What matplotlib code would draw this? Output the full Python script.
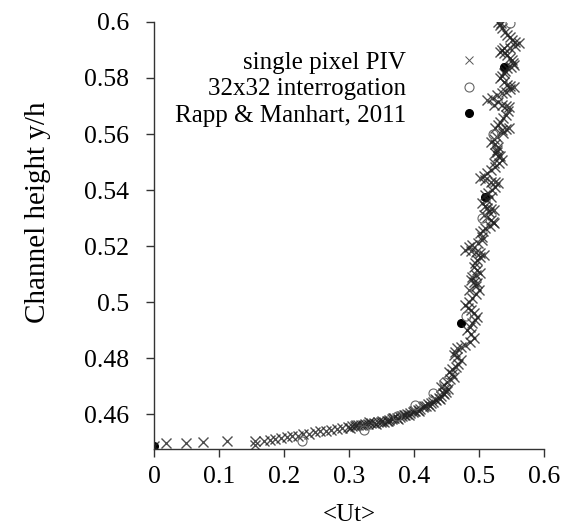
import matplotlib
matplotlib.use("Agg")
import matplotlib.pyplot as plt

plt.rcParams['font.family'] = ['Liberation Serif', 'DejaVu Serif']

# single pixel PIV (wall region first, then upward)
piv_x = [0.0, 0.019, 0.050, 0.075, 0.112, 0.155, 0.155,
         0.169, 0.178, 0.186, 0.195, 0.204, 0.212, 0.221, 0.230, 0.238, 0.247,
         0.256, 0.264, 0.273, 0.282, 0.290, 0.298, 0.304, 0.309, 0.314, 0.319,
         0.324, 0.329, 0.334, 0.339, 0.344, 0.349, 0.354, 0.358, 0.362, 0.366,
         0.370, 0.374, 0.378, 0.382, 0.386, 0.390, 0.394, 0.398, 0.402, 0.406,
         0.410, 0.414, 0.418, 0.422, 0.426, 0.430, 0.434, 0.438, 0.442, 0.446,
         0.450, 0.453, 0.441, 0.451, 0.461, 0.454, 0.464, 0.472, 0.461, 0.466,
         0.479, 0.492, 0.482, 0.490, 0.497, 0.487, 0.479, 0.490, 0.500, 0.492,
         0.484, 0.497, 0.490, 0.502, 0.492, 0.497, 0.507, 0.495, 0.479, 0.490,
         0.505, 0.502, 0.510, 0.523, 0.518, 0.507, 0.523, 0.513, 0.505, 0.518,
         0.510, 0.520, 0.530, 0.518, 0.502, 0.513, 0.525, 0.523, 0.536, 0.530,
         0.528, 0.525, 0.530, 0.518, 0.528, 0.546, 0.536, 0.525, 0.533, 0.541,
         0.546, 0.536, 0.523, 0.513, 0.528, 0.541, 0.554, 0.543, 0.533, 0.538,
         0.543, 0.554, 0.551, 0.543, 0.533, 0.538, 0.548, 0.561, 0.551, 0.543,
         0.536, 0.529]
piv_y = [0.4487, 0.4495, 0.4497, 0.4500, 0.4502, 0.4505, 0.4491,
         0.4505, 0.4508, 0.4511, 0.4514, 0.4517, 0.4520, 0.4523, 0.4527, 0.4530, 0.4535,
         0.4539, 0.4541, 0.4544, 0.4547, 0.4550, 0.4553, 0.4556, 0.4558, 0.4560, 0.4562,
         0.4565, 0.4566, 0.4567, 0.4569, 0.4570, 0.4571, 0.4573, 0.4576, 0.4578, 0.4581,
         0.4584, 0.4586, 0.4589, 0.4593, 0.4597, 0.4601, 0.4604, 0.4607, 0.4611, 0.4615,
         0.4619, 0.4624, 0.4629, 0.4634, 0.4639, 0.4644, 0.4650, 0.4657, 0.4664, 0.4671,
         0.4678, 0.4688, 0.4698, 0.4715, 0.4733, 0.4751, 0.4769, 0.4793, 0.4811, 0.4834,
         0.4846, 0.4870, 0.4900, 0.4924, 0.4948, 0.4971, 0.4989, 0.5013, 0.5043, 0.5073,
         0.5043, 0.5067, 0.5090, 0.5102, 0.5126, 0.5150, 0.5168, 0.5180, 0.5186, 0.5204,
         0.5221, 0.5245, 0.5263, 0.5281, 0.5293, 0.5311, 0.5329, 0.5335, 0.5352, 0.5376,
         0.5382, 0.5400, 0.5424, 0.5430, 0.5442, 0.5460, 0.5483, 0.5495, 0.5507, 0.5520,
         0.5537, 0.5531, 0.5555, 0.5573, 0.5590, 0.5620, 0.5614, 0.5620, 0.5644, 0.5668,
         0.5698, 0.5704, 0.5704, 0.5721, 0.5739, 0.5751, 0.5769, 0.5775, 0.5799, 0.5817,
         0.5835, 0.5846, 0.5864, 0.5882, 0.5894, 0.5906, 0.5906, 0.5924, 0.5936, 0.5954,
         0.5978, 0.6000]

# more single pixel PIV points from the dense band
piv_x2 = [0.301, 0.311, 0.321, 0.331, 0.341, 0.351, 0.360, 0.368, 0.376, 0.384,
          0.392, 0.400, 0.408, 0.416, 0.424, 0.432, 0.440, 0.444, 0.448,
          0.446, 0.456, 0.458, 0.459, 0.468, 0.466, 0.463, 0.472, 0.486, 0.487,
          0.486, 0.494, 0.492, 0.483, 0.485, 0.495, 0.496, 0.488, 0.496, 0.497,
          0.494, 0.502, 0.501, 0.487, 0.485, 0.498, 0.504, 0.506, 0.517, 0.521,
          0.512, 0.515, 0.518, 0.509, 0.512, 0.514, 0.525, 0.524, 0.510, 0.508,
          0.519, 0.531, 0.533, 0.527, 0.524, 0.523, 0.537, 0.541, 0.529, 0.537,
          0.544, 0.541, 0.530, 0.520, 0.535, 0.548, 0.548, 0.538, 0.535, 0.540,
          0.549, 0.553, 0.547, 0.538, 0.536, 0.555, 0.556, 0.547, 0.540, 0.532,
          0.534]
piv_y2 = [0.4551, 0.4561, 0.4560, 0.4570, 0.4566, 0.4575, 0.4574, 0.4585, 0.4583, 0.4598,
          0.4597, 0.4612, 0.4611, 0.4630, 0.4630, 0.4652, 0.4655, 0.4675, 0.4690,
          0.4705, 0.4724, 0.4742, 0.4760, 0.4780, 0.4802, 0.4822, 0.4840, 0.4858, 0.4885,
          0.4912, 0.4936, 0.4960, 0.4980, 0.5001, 0.5028, 0.5058, 0.5079, 0.5096, 0.5114,
          0.5138, 0.5159, 0.5174, 0.5183, 0.5195, 0.5212, 0.5233, 0.5254, 0.5272, 0.5287,
          0.5302, 0.5320, 0.5332, 0.5344, 0.5364, 0.5391, 0.5412, 0.5427, 0.5436, 0.5451,
          0.5472, 0.5495, 0.5522, 0.5544, 0.5564, 0.5582, 0.5605, 0.5617, 0.5632, 0.5656,
          0.5683, 0.5701, 0.5713, 0.5730, 0.5745, 0.5760, 0.5772, 0.5787, 0.5808, 0.5826,
          0.5840, 0.5855, 0.5873, 0.5888, 0.5900, 0.5915, 0.5930, 0.5945, 0.5966, 0.5989,
          0.5995]

# 32x32 interrogation
win_x = [0.228, 0.323, 0.374, 0.402, 0.430, 0.446, 0.480, 0.505, 0.522, 0.547]
win_y = [0.4505, 0.4543, 0.4593, 0.4632, 0.4674, 0.4716, 0.4950, 0.5300, 0.5600, 0.5995]

# Rapp & Manhart, 2011
ref_x = [0.0, 0.473, 0.510, 0.538]
ref_y = [0.4487, 0.4924, 0.5376, 0.5840]

fig = plt.figure(figsize=(5.64, 5.30), dpi=100)
ax = fig.add_axes([0.273, 0.1528, 0.6915, 0.8057])

ax.plot(ref_x, ref_y, linestyle='none', marker='o', markersize=5.5,
        color='black', label='Rapp & Manhart, 2011', zorder=2)
ax.plot(piv_x + piv_x2, piv_y + piv_y2, linestyle='none', marker='x', markersize=7.5,
        markeredgewidth=1.0, color='#222222', alpha=0.8, label='single pixel PIV',
        zorder=3)
ax.plot(win_x, win_y, linestyle='none', marker='o', markersize=6.5,
        markerfacecolor='none', markeredgewidth=0.8, color='#666666',
        label='32x32 interrogation', zorder=4)

ax.set_xlim(0, 0.6)
ax.set_ylim(0.4475, 0.6)
ax.set_xticks([0, 0.1, 0.2, 0.3, 0.4, 0.5, 0.6])
ax.set_xticklabels(['0', '0.1', '0.2', '0.3', '0.4', '0.5', '0.6'])
ax.set_yticks([0.46, 0.48, 0.5, 0.52, 0.54, 0.56, 0.58, 0.6])
ax.set_yticklabels(['0.46', '0.48', '0.5', '0.52', '0.54', '0.56', '0.58', '0.6'])

for s in ['top', 'right']:
    ax.spines[s].set_visible(False)
for s in ['left', 'bottom']:
    ax.spines[s].set_color('#333333')
    ax.spines[s].set_linewidth(1.0)

ax.tick_params(axis='y', direction='out', length=6, width=1, color='#333333',
               labelsize=18.5, pad=12)
ax.tick_params(axis='x', direction='out', length=6, width=1, color='#333333',
               labelsize=18.5, pad=6)

ax.set_xlabel('<Ut>', fontsize=18, labelpad=12)
ax.set_ylabel('Channel height y/h', fontsize=21)
ax.yaxis.set_label_coords(-0.265, 0.555)

handles, labels = ax.get_legend_handles_labels()
order = [1, 2, 0]
leg = ax.legend([handles[i] for i in order], [labels[i] for i in order],
                loc='upper right', bbox_to_anchor=(481 / 564, 1 - 51 / 530),
                bbox_transform=fig.transFigure, frameon=False, markerfirst=False,
                fontsize=18, handlelength=1.0, handletextpad=2.0,
                labelspacing=0.17, borderpad=0, borderaxespad=0)
for h in leg.legend_handles:
    h.set_alpha(1)
leg.legend_handles[0].set_markersize(6)
leg.legend_handles[0].set_markeredgewidth(0.7)
leg.legend_handles[0].set_color('#555555')

fig.savefig('out.png', dpi=100)
